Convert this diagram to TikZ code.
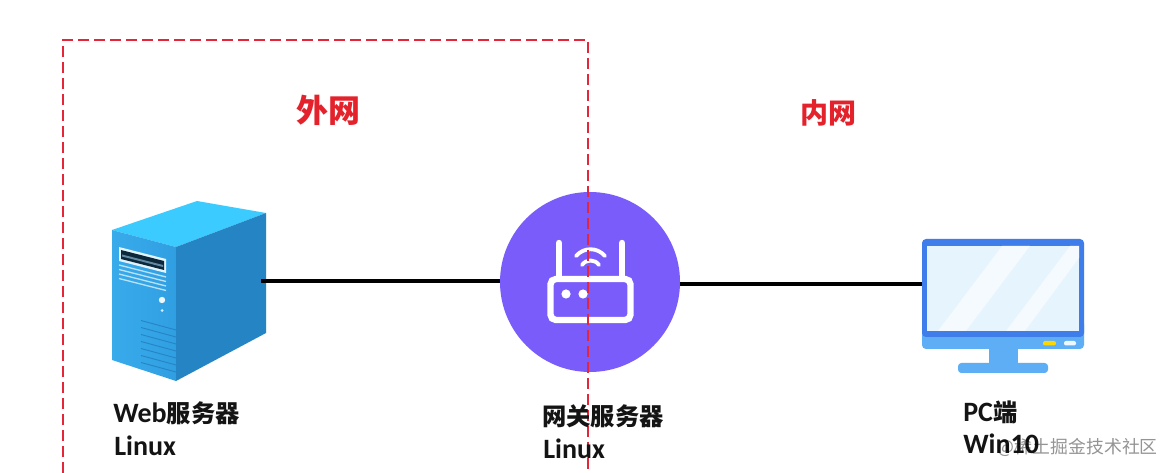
\documentclass[tikz,border=0pt]{standalone}
\usepackage{fontspec}
\setmainfont{Carlito}
\newfontfamily\cjk{Noto Sans CJK SC}
\newcommand{\cj}[1]{{\fontsize{18.2pt}{22pt}\selectfont\cjk\bfseries #1}}
\definecolor{zonered}{HTML}{E3263A}
\definecolor{titlered}{HTML}{E4222B}
\definecolor{routerviolet}{HTML}{7A5CFB}
\definecolor{srvtop}{HTML}{3CCBFF}
\definecolor{srvleftA}{HTML}{38ABEB}
\definecolor{srvleftB}{HTML}{309FE2}
\definecolor{srvright}{HTML}{2585C4}
\definecolor{bezel}{HTML}{3F7DEB}
\definecolor{chin}{HTML}{5EAEF5}
\definecolor{glass}{HTML}{E6F4FD}
\definecolor{glare}{HTML}{F4FAFE}
\tikzset{
  x=0.75pt,y=-0.75pt,
  link/.style={draw=black,line width=2.6pt},
  zone/.style={draw=zonered,line width=2.2pt,dash pattern=on 8.4pt off 3.6pt},
  devicelabel/.style={anchor=west,inner sep=0pt,align=left,font=\fontsize{21pt}{24pt}\selectfont\bfseries,text=black!92},
  zonetitle/.style={inner sep=0pt,text=titlered},
  ghostbox/.style={inner sep=0pt,outer sep=0pt},
  iconline/.style={draw=white,line width=4.8pt,line cap=round},
}
\begin{document}
\begin{tikzpicture}
\useasboundingbox (0,0) rectangle (1173,473);
\fill[white] (0,0) rectangle (1173,473);

% device anchors
\node[ghostbox,minimum width=108pt,minimum height=135pt] (server) at (189,281) {};
\node[ghostbox,circle,fill=routerviolet,minimum size=135pt] (router) at (590,282) {};
\node[ghostbox,minimum width=121.5pt,minimum height=100pt] (pc) at (1003,284) {};

% server
\fill[srvtop] (112,230) -- (197,201) -- (266,213) -- (176,247) -- cycle;
\shade[left color=srvleftA,right color=srvleftB] (112,230) -- (176,247) -- (176,381) -- (112,360) -- cycle;
\fill[srvright] (176,247) -- (266,213) -- (266,333) -- (176,381) -- cycle;
\fill[white!85!srvleftA] (119,247) -- (166,259) -- (166,273) -- (119,261) -- cycle;
\fill[black!70!srvright] (121,250) -- (164,261) -- (164,270) -- (121,259) -- cycle;
\fill[white!55!black!60!srvright] (122,254.5) -- (163,265) -- (163,267) -- (122,256.5) -- cycle;
\foreach \d in {0,4.5,9,13.5}
  \draw[white!65!srvleftA,line width=1pt] (119,265+\d) -- (166,277+\d);
\fill[white!90!srvleftA] (162,300) circle[radius=3.2];
\fill[white!80!srvleftA] (162,310.5) circle[radius=1.5];
\foreach \d in {0,7,14,21,28,35,42}
  \draw[srvright,line width=0.7pt] (141,320.5+\d) -- (176,330+\d);

% connectors
\draw[link] (server.east) -- (server.east -| router.west);
\draw[link] (router.east |- pc.west) -- (pc.west);

% router icon
\draw[iconline,rounded corners=4pt] (550.5,279) rectangle (630.5,320);
\draw[iconline] (559,243) -- (559,277);
\draw[iconline] (622,243) -- (622,277);
\fill[white] (566,294) circle[radius=4.6];
\fill[white] (583,294) circle[radius=4.6];
\draw[draw=white,line width=2.9pt,line cap=round] (576,256) .. controls (584,247) and (597,247) .. (605,256);
\draw[draw=white,line width=2.9pt,line cap=round] (582,265) .. controls (586,259) and (595,259) .. (599,265);

% pc
\fill[chin,rounded corners=3pt] (922,320) rectangle (1084,349);
\fill[bezel,rounded corners=3pt] (922,239) rectangle (1084,337);
\fill[glass] (927,246) rectangle (1079,331);
\fill[glare] (938,331) -- (1002,246) -- (1030,246) -- (966,331) -- cycle;
\fill[glare] (1006,331) -- (1070,246) -- (1079,246) -- (1079,258) -- (1025,331) -- cycle;
\fill[chin] (989,349) rectangle (1018,364);
\fill[chin,rounded corners=2.5pt] (958,363) rectangle (1048,373);
\fill[yellow!75!orange,rounded corners=1.5pt] (1043,341) rectangle (1056,345.5);
\fill[white!90!chin,rounded corners=1.5pt] (1064,341) rectangle (1076,345.5);

% zone outline
\draw[zone] (63,473) -- (63,40) -- (588,40) -- (588,473);

% titles
\node[zonetitle,font=\fontsize{24pt}{26pt}\selectfont] (wan) at (328,110) {{\cjk\bfseries 外网}};
\node[zonetitle,font=\fontsize{21pt}{24pt}\selectfont] (lan) at (828,113) {{\cjk\bfseries 内网}};

% labels
\node[devicelabel] (serverA) at (113,413) {Web\cj{服务器}};
\node[devicelabel] (serverB) at (114,446) {Linux};
\node[devicelabel] (routerA) at (542,416) {\cj{网关服务器}};
\node[devicelabel] (routerB) at (543,449) {Linux};
\node[devicelabel] (pcA) at (963,412) {PC\cj{端}};
\node[devicelabel] (pcB) at (963,444) {Win10};

% watermark
\node[anchor=east,inner sep=0pt,text=black,opacity=.42,font=\cjk\fontsize{13.4pt}{15pt}\selectfont] (mark) at (1158,447) {@稀土掘金技术社区};
\end{tikzpicture}
\end{document}
